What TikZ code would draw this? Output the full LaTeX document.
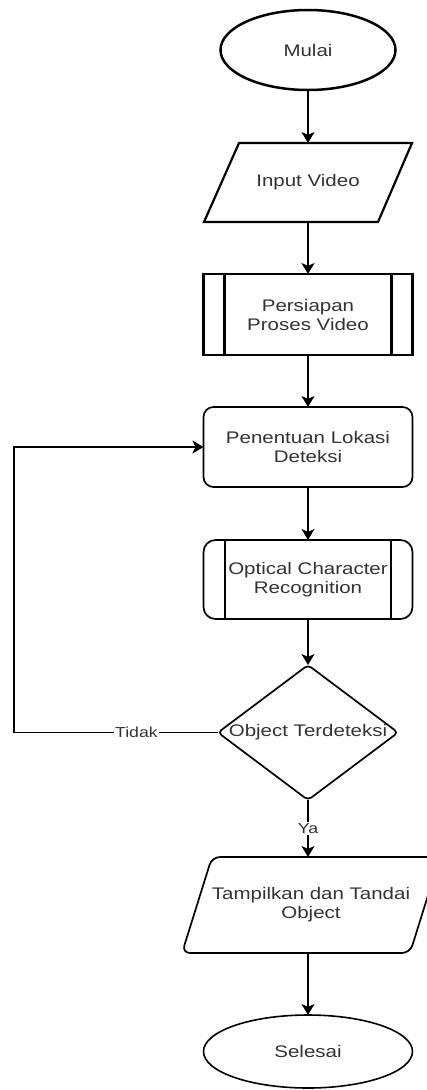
\documentclass[tikz,border=0pt]{standalone}
\usepackage{fontspec}
\setmainfont{Liberation Sans}[FakeStretch=1.22]
\usetikzlibrary{arrows.meta,shapes.geometric}
\definecolor{txt}{HTML}{333333}
\begin{document}
\begin{tikzpicture}[x=1pt,y=-1pt,
  every node/.style={inner sep=0pt, outer sep=0pt, text=txt, align=center, font=\fontsize{16.8}{19}\selectfont},
  conn/.style={line width=1.8pt, -{Stealth[length=11pt,width=13pt,inset=3pt]}},
  box/.style={minimum width=209pt, minimum height=80pt},
  lbl/.style={fill=white, font=\fontsize{14.5}{17}\selectfont, inner sep=1pt}]
\useasboundingbox (0,0) rectangle (427,1090);
\clip (0,0) rectangle (427,1090);

\node[ellipse, draw, line width=2.5pt, minimum width=175pt, minimum height=80pt] (start) at (308,50) {Mulai};

\node[minimum width=208pt, minimum height=79pt] (input) at (308,182.5) {Input Video};
\draw[line width=2.2pt] ([xshift=35pt]input.north west) -- (input.north east) -- ([xshift=-34pt]input.south east) -- (input.south west) -- cycle;

\node[box, minimum height=81pt, draw, line width=2.4pt] (prep) at (308,314.5) {Persiapan\\Proses Video};
\draw[line width=2.4pt] ([xshift=21pt]prep.north west) -- ([xshift=21pt]prep.south west);
\draw[line width=2.4pt] ([xshift=-21pt]prep.north east) -- ([xshift=-21pt]prep.south east);

\node[box, draw, rounded corners=10pt, line width=1.7pt] (loc) at (308,447) {Penentuan Lokasi\\Deteksi};

\node[box, minimum height=79pt, draw, rounded corners=12pt, line width=1.7pt] (ocr) at (308,579.5) {Optical Character\\Recognition};
\draw[line width=1.7pt] ([xshift=21.5pt]ocr.north west) -- ([xshift=21.5pt]ocr.south west);
\draw[line width=1.7pt] ([xshift=-21.5pt]ocr.north east) -- ([xshift=-21.5pt]ocr.south east);

\node[minimum width=180pt, minimum height=135pt] (dec) at (308,732.5) {Object Terdeteksi};
\draw[line width=1.7pt, rounded corners=4pt] (dec.north) -- (dec.east) -- (dec.south) -- (dec.west) -- cycle;

\node[minimum width=258pt, minimum height=96pt] (show) at (311,905) {Tampilkan dan Tandai\\Object};
\draw[line width=1.7pt, rounded corners=8pt] ([xshift=30pt]show.north west) -- (show.north east) -- ([xshift=-30pt]show.south east) -- (show.south west) -- cycle;

\node[ellipse, draw, line width=1.6pt, minimum width=209pt, minimum height=73pt] (end) at (308,1051.5) {Selesai};

\coordinate (lp) at (14,732.5);

\draw[conn] (start) -- (input);
\draw[conn] (input) -- (prep);
\draw[conn] (prep) -- (loc);
\draw[conn] (loc) -- (ocr);
\draw[conn] (ocr) -- (dec.north);
\draw[conn] (dec.south) -- node[lbl]{Ya} (dec.south |- show.north);
\draw[conn] (dec.south |- show.south) -- (end.north);
\draw[conn] (dec.west) -- node[lbl, pos=0.4]{Tidak} (lp) |- (loc.west);
\end{tikzpicture}
\end{document}
